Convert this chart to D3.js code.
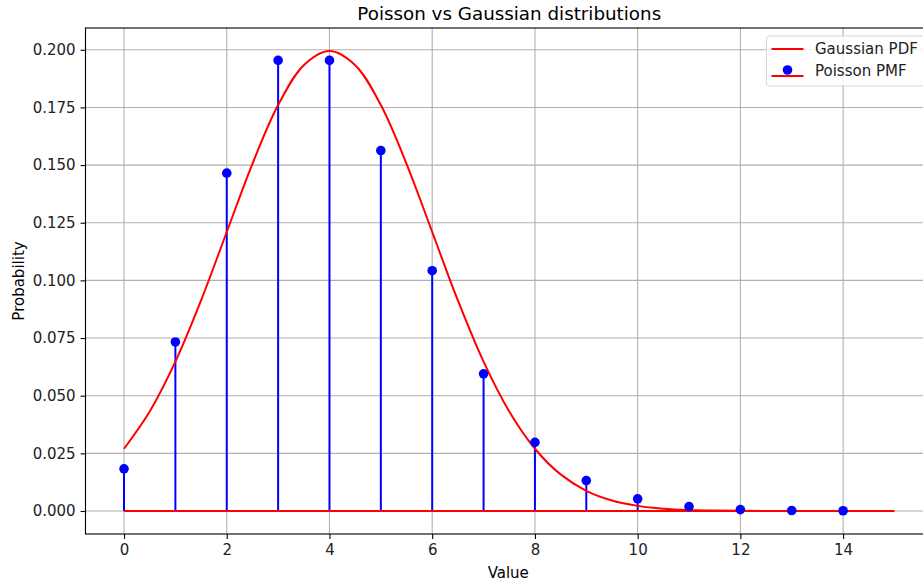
<!DOCTYPE html>
<html>
<head>
<meta charset="utf-8">
<script src="https://cdn.jsdelivr.net/npm/d3@7"></script>
<style>
  html, body { margin: 0; padding: 0; background: #fff; overflow: hidden; }
  svg { display: block; font-family: "DejaVu Sans", sans-serif; }
</style>
</head>
<body>
<svg id="chart" width="923" height="582"></svg>
<script>
// Poisson PMF (lambda = 4) at k = 0..14
const poissonK = [0, 1, 2, 3, 4, 5, 6, 7, 8, 9, 10, 11, 12, 13, 14];
const poissonP = [0.0183, 0.0733, 0.1465, 0.1954, 0.1954, 0.1563, 0.1042, 0.0595,
                  0.0298, 0.0132, 0.0053, 0.0019, 0.0006, 0.0002, 0.0001];

// Gaussian PDF (mean 4, sd 2) sampled every 0.5 from 0 to 15
const gaussX = [0, 0.5, 1, 1.5, 2, 2.5, 3, 3.5, 4, 4.5, 5, 5.5, 6, 6.5, 7, 7.5,
                8, 8.5, 9, 9.5, 10, 10.5, 11, 11.5, 12, 12.5, 13, 13.5, 14, 14.5, 15];
const gaussY = [0.02700, 0.04314, 0.06476, 0.09132, 0.12099, 0.15057, 0.17603, 0.19333,
                0.19947, 0.19333, 0.17603, 0.15057, 0.12099, 0.09132, 0.06476, 0.04314,
                0.02700, 0.01587, 0.00876, 0.00455, 0.00222, 0.00101, 0.00044, 0.00018,
                0.00007, 0.00002, 0.00001, 0.0, 0.0, 0.0, 0.0];

const xTicks = [0, 2, 4, 6, 8, 10, 12, 14];
const yTicks = [0.000, 0.025, 0.050, 0.075, 0.100, 0.125, 0.150, 0.175, 0.200];

const titleText = "Poisson vs Gaussian distributions";
const xLabel = "Value";
const yLabel = "Probability";
const legendLabels = ["Gaussian PDF", "Poisson PMF"];

const svg = d3.select("#chart");
const plot = { left: 85.5, right: 933, top: 28, bottom: 534 };
const fs = 15;

const x = d3.scaleLinear().domain([-0.75, 15.75]).range([plot.left, plot.right]);
const y = d3.scaleLinear().domain([-0.009974, 0.209447]).range([plot.bottom, plot.top]);

// grid
const grid = svg.append("g");
grid.selectAll("line.gx").data(xTicks).join("line")
  .attr("x1", d => x(d)).attr("x2", d => x(d))
  .attr("y1", plot.top).attr("y2", plot.bottom)
  .attr("stroke", "#b0b0b0").attr("stroke-width", 1.1);
grid.selectAll("line.gy").data(yTicks).join("line")
  .attr("x1", plot.left).attr("x2", plot.right)
  .attr("y1", d => y(d)).attr("y2", d => y(d))
  .attr("stroke", "#b0b0b0").attr("stroke-width", 1.1);

// stems
svg.append("g").selectAll("line").data(poissonK).join("line")
  .attr("x1", (d) => x(d)).attr("x2", (d) => x(d))
  .attr("y1", y(0)).attr("y2", (d, i) => y(poissonP[i]))
  .attr("stroke", "blue").attr("stroke-width", 2);

// stem baseline
svg.append("line")
  .attr("x1", x(d3.min(poissonK))).attr("x2", x(d3.max(poissonK)))
  .attr("y1", y(0)).attr("y2", y(0))
  .attr("stroke", "red").attr("stroke-width", 2);

// gaussian curve
const line = d3.line()
  .x((d, i) => x(gaussX[i]))
  .y((d, i) => y(gaussY[i]))
  .curve(d3.curveCatmullRom.alpha(0.5));
svg.append("path").datum(gaussX)
  .attr("d", line)
  .attr("fill", "none").attr("stroke", "red").attr("stroke-width", 2);

// markers
svg.append("g").selectAll("circle").data(poissonK).join("circle")
  .attr("cx", d => x(d)).attr("cy", (d, i) => y(poissonP[i]))
  .attr("r", 4.8).attr("fill", "blue");

// spines
svg.append("rect")
  .attr("x", plot.left).attr("y", plot.top)
  .attr("width", plot.right - plot.left).attr("height", plot.bottom - plot.top)
  .attr("fill", "none").attr("stroke", "#000").attr("stroke-width", 1.1);

// axes
const xAxis = svg.append("g").attr("transform", `translate(0,${plot.bottom})`)
  .call(d3.axisBottom(x).tickValues(xTicks).tickFormat(d3.format("d")).tickSize(4.9).tickPadding(5));
const yAxis = svg.append("g").attr("transform", `translate(${plot.left},0)`)
  .call(d3.axisLeft(y).tickValues(yTicks).tickFormat(d3.format(".3f")).tickSize(4.9).tickPadding(5));
[xAxis, yAxis].forEach(a => {
  a.select(".domain").remove();
  a.selectAll(".tick line").attr("stroke", "#000").attr("stroke-width", 1.1);
  a.selectAll(".tick text").attr("fill", "#222").attr("font-size", fs + "px")
    .attr("font-family", "DejaVu Sans, sans-serif");
});

// title and labels
svg.append("text").attr("x", (plot.left + plot.right) / 2).attr("y", 19.5)
  .attr("text-anchor", "middle").attr("font-size", "18.3px").attr("fill", "#000")
  .text(titleText);
svg.append("text").attr("x", (plot.left + plot.right) / 2 - 1).attr("y", 577.5)
  .attr("text-anchor", "middle").attr("font-size", fs + "px").attr("fill", "#000")
  .text(xLabel);
svg.append("text").attr("transform", `translate(23.5,${(plot.top + plot.bottom) / 2}) rotate(-90)`)
  .attr("text-anchor", "middle").attr("font-size", fs + "px").attr("fill", "#000")
  .text(yLabel);

// legend
const lg = svg.append("g").attr("transform", "translate(766.5,36)");
lg.append("rect").attr("x", 0).attr("y", 0).attr("width", 160).attr("height", 50)
  .attr("rx", 3).attr("fill", "rgba(255,255,255,0.8)").attr("stroke", "#d5d5d5").attr("stroke-width", 1);
lg.append("line").attr("x1", 5).attr("x2", 37).attr("y1", 13).attr("y2", 13)
  .attr("stroke", "red").attr("stroke-width", 2);
lg.append("line").attr("x1", 5).attr("x2", 37).attr("y1", 40).attr("y2", 40)
  .attr("stroke", "red").attr("stroke-width", 2);
lg.append("circle").attr("cx", 21).attr("cy", 34).attr("r", 4.8).attr("fill", "blue");
lg.selectAll("text").data(legendLabels).join("text")
  .attr("x", 48.5).attr("y", (d, i) => 18 + i * 22)
  .attr("font-size", fs + "px").attr("fill", "#222").text(d => d);
</script>
</body>
</html>
